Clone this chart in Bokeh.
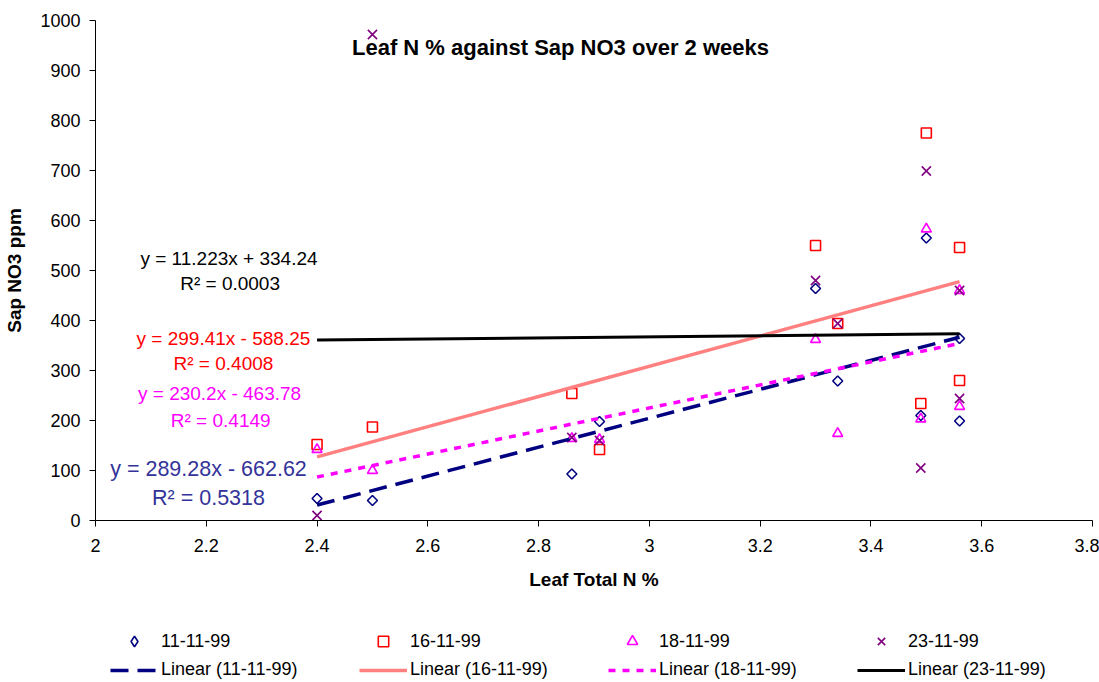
import numpy as np
from bokeh.plotting import figure
from bokeh.layouts import column
from bokeh.models import (Range1d, FixedTicker, CustomJSTickFormatter, Label,
                          Legend, LegendItem)
from bokeh.embed import file_html
from bokeh.resources import INLINE

# ---------------- data ----------------
leaf_n = [2.4, 2.5, 2.86, 2.91, 3.3, 3.34, 3.49, 3.5, 3.56, 3.56]
sap_11 = [44, 40, 93, 198, 464, 279, 210, 565, 364, 199]
sap_16 = [152, 187, 254, 142, 550, 394, 234, 775, 546, 280]
sap_18 = [142, 100, 164, 162, 362, 174, 203, 583, 460, 228]
sap_23 = [10, 972, 166, 160, 480, 394, 105, 699, 460, 244]

series_names = ["11-11-99", "16-11-99", "18-11-99", "23-11-99"]
series_values = [sap_11, sap_16, sap_18, sap_23]

x_ticks = [2.0, 2.2, 2.4, 2.6, 2.8, 3.0, 3.2, 3.4, 3.6, 3.8]
x_tick_labels = ["2", "2.2", "2.4", "2.6", "2.8", "3", "3.2", "3.4", "3.6", "3.8"]
y_ticks = [0, 100, 200, 300, 400, 500, 600, 700, 800, 900, 1000]

eq_lines = ["y = 289.28x - 662.62", "y = 299.41x - 588.25",
            "y = 230.2x - 463.78", "y = 11.223x + 334.24"]
r2_lines = ["R\u00b2 = 0.5318", "R\u00b2 = 0.4008",
            "R\u00b2 = 0.4149", "R\u00b2 = 0.0003"]

# ---------------- styles ----------------
FONT = "Liberation Sans"
marker_colors = ["#000080", "#FF0000", "#FF00FF", "#800080"]
markers = ["square", "square", "triangle", "x"]
legend_markers = ["diamond", "square", "triangle", "x"]
marker_sizes = [7, 10, 10, 13]
marker_angles = [np.pi / 4, 0, 0, 0]
line_colors = ["#000080", "#FF8080", "#FF00FF", "#000000"]
line_dashes = ["18 9", "solid", "7 7", "solid"]
line_widths = [3.5, 3.5, 3.5, 3]
eq_colors = ["#333399", "#FF0000", "#FF00FF", "#000000"]

# label positions in data units (eq line, r2 line)
eq_pos = [(2.204, 104), (2.231, 364), (2.224, 254), (2.241, 524)]
r2_pos = [(2.204, 46), (2.231, 314), (2.226, 200), (2.243, 474)]
eq_sizes = ["21.5px", "19px", "19px", "19px"]

W = 1099
p = figure(width=W, height=600, output_backend="svg", toolbar_location=None,
           x_range=Range1d(2, 3.8), y_range=Range1d(0, 1000),
           min_border_left=95, min_border_right=7, min_border_top=20,
           min_border_bottom=80)
p.outline_line_color = None
p.background_fill_color = "white"
p.border_fill_color = "white"
p.grid.visible = False

p.xaxis.ticker = FixedTicker(ticks=x_ticks)
p.xaxis.formatter = CustomJSTickFormatter(args=dict(xt=x_ticks, lbl=x_tick_labels), code="""
const i = xt.findIndex(t => Math.abs(t - tick) < 1e-6);
return i >= 0 ? lbl[i] : String(tick);
""")
p.yaxis.ticker = FixedTicker(ticks=y_ticks)

for ax in (p.xaxis[0], p.yaxis[0]):
    ax.axis_line_color = "black"
    ax.axis_line_width = 1
    ax.major_tick_line_color = "black"
    ax.major_tick_in = 0
    ax.major_tick_out = 6
    ax.minor_tick_line_color = None
    ax.major_label_text_font = FONT
    ax.major_label_text_font_size = "18px"
    ax.major_label_text_color = "black"
    ax.axis_label_text_font = FONT
    ax.axis_label_text_font_style = "bold"
    ax.axis_label_text_font_size = "19px"
    ax.axis_label_text_color = "black"

p.xaxis.axis_label = "Leaf Total N %"
p.yaxis.axis_label = "Sap NO3 ppm"
p.xaxis.major_label_standoff = 12
p.xaxis.axis_label_standoff = 14
p.yaxis.major_label_standoff = 9
p.yaxis.axis_label_standoff = 12

scatter_renderers = []
line_renderers = []
xa = np.array(leaf_n)
for i, vals in enumerate(series_values):
    p.scatter(leaf_n, vals, marker=markers[i], size=marker_sizes[i],
              angle=marker_angles[i], fill_color=None,
              line_color=marker_colors[i], line_width=1.6)

for i, vals in enumerate(series_values):
    slope, icpt = np.polyfit(xa, np.array(vals, dtype=float), 1)
    xs = [float(xa.min()), float(xa.max())]
    ys = [float(slope * x + icpt) for x in xs]
    p.line(xs, ys, line_color=line_colors[i], line_width=line_widths[i],
           line_dash=line_dashes[i])

for i in range(4):
    for txt, pos in ((eq_lines[i], eq_pos[i]), (r2_lines[i], r2_pos[i])):
        p.add_layout(Label(x=pos[0], y=pos[1], text=txt, text_align="center",
                           text_baseline="middle", text_font=FONT,
                           text_font_size=eq_sizes[i], text_color=eq_colors[i]))

p.add_layout(Label(x=2.845, y=946, text="Leaf N % against Sap NO3  over 2 weeks",
                   text_align="center", text_baseline="middle", text_font=FONT,
                   text_font_style="bold", text_font_size="22px", text_color="black"))

# ---------------- legend strip (frame is aligned with the main plot's frame) ----------------
lg = figure(width=W, height=82, output_backend="svg", toolbar_location=None,
            x_axis_type=None, y_axis_type=None, x_range=Range1d(0, 1), y_range=Range1d(0, 1),
            min_border_left=0, min_border_right=0, min_border_top=0, min_border_bottom=0)
lg.outline_line_color = None
lg.grid.visible = False

# proxy renderers (single point outside the visible range) used only for legend swatches
for i in range(4):
    scatter_renderers.append(lg.scatter([-5], [-5], marker=legend_markers[i], size=marker_sizes[i],
                                        fill_color=None, line_color=marker_colors[i],
                                        line_width=1.6))
    line_renderers.append(lg.line([-5, -4], [-5, -4], line_color=line_colors[i],
                                  line_width=line_widths[i], line_dash=line_dashes[i]))

def make_legend(items, loc, gh):
    return Legend(items=items, location=loc, orientation="horizontal",
                  glyph_width=48, glyph_height=gh, label_height=20,
                  label_width=189, label_standoff=3, spacing=9, padding=0, margin=0,
                  border_line_color=None, background_fill_alpha=0,
                  label_text_font=FONT, label_text_font_size="18px",
                  label_text_color="black")

row1 = [LegendItem(label=series_names[i], renderers=[scatter_renderers[i]]) for i in range(4)]
row2 = [LegendItem(label="Linear (" + series_names[i] + ")", renderers=[line_renderers[i]]) for i in range(4)]
lg.add_layout(make_legend(row1, (15, 28), 26))
lg.add_layout(make_legend(row2, (15, 2), 20))

open("out.html", "w").write(file_html(column(p, lg, spacing=0), INLINE))
